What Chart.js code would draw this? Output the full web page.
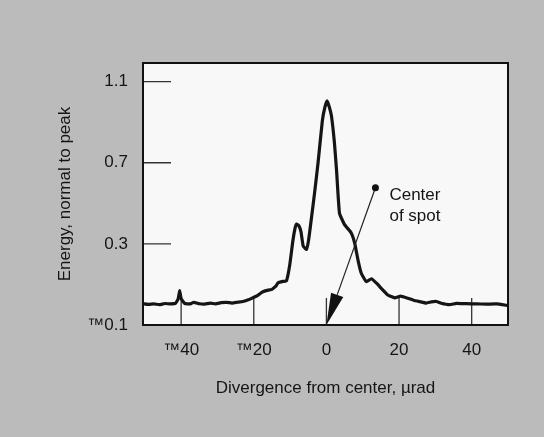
<!DOCTYPE html>
<html>
<head>
<meta charset="utf-8">
<script src="https://cdn.jsdelivr.net/npm/chart.js"></script>
<style>
  html, body { margin: 0; padding: 0; background: #bbbbbb; }
  canvas { display: block; }
</style>
</head>
<body>
<canvas id="beamChart" width="544" height="437"></canvas>
<script>
// divergence from center (urad) and normalised energy
var divergence = [-50.5, -49, -47.5, -46, -44.5, -43, -41.5, -40.8, -40.4, -40, -39, -37.5, -36.5, -35, -33.5, -32, -30.5, -29, -27.5, -26, -24.5, -23, -21.5, -20.3, -19, -17.5, -16, -15, -14, -13.3, -12, -11, -10.1, -9.2, -8.6, -8.2, -7.6, -7, -6.4, -5.5, -4.9, -4.1, -3.2, -2.3, -1.1, -0.4, 0.2, 0.8, 1.4, 2.2, 2.8, 3.6, 5.0, 6.8, 7.8, 8.7, 9.6, 11, 12.4, 13.8, 15.1, 16.9, 18.8, 20.4, 22.4, 24, 25.7, 27.5, 28.9, 30.3, 31.6, 33.9, 35.8, 38.5, 41.3, 44, 46.8, 50];
var energy = [0.005, 0.002, 0.004, 0.0, 0.006, 0.004, 0.008, 0.03, 0.07, 0.03, 0.006, 0.004, 0.012, 0.005, 0.003, 0.008, 0.004, 0.01, 0.012, 0.008, 0.012, 0.016, 0.024, 0.034, 0.045, 0.064, 0.072, 0.076, 0.09, 0.108, 0.115, 0.118, 0.196, 0.319, 0.38, 0.398, 0.39, 0.36, 0.29, 0.273, 0.319, 0.43, 0.56, 0.70, 0.91, 0.975, 1.005, 0.975, 0.93, 0.80, 0.66, 0.451, 0.395, 0.355, 0.303, 0.22, 0.155, 0.114, 0.128, 0.106, 0.081, 0.048, 0.034, 0.042, 0.032, 0.022, 0.015, 0.008, 0.014, 0.016, 0.007, 0.0, 0.007, 0.005, 0.004, 0.003, 0.004, -0.004];

var xTicks = [-40, -20, 0, 20, 40];
var xTickLabels = ['™40', '™20', '0', '20', '40'];
var yTicks = [-0.1, 0.3, 0.7, 1.1];
var yTickLabels = ['™0.1', '0.3', '0.7', '1.1'];

// "Center of spot" callout: dot -> arrow tip, in data units
var calloutFrom = [13.5, 0.577];
var calloutTo = [0, -0.1];
var calloutText = ['Center', 'of spot'];

var points = divergence.map(function (x, i) { return { x: x, y: energy[i] }; });
var FONT = '"Liberation Sans", Arial, Helvetica, sans-serif';

var framePlugin = {
  id: 'frame',
  beforeDatasetsDraw: function (chart) {
    var ctx = chart.ctx, a = chart.chartArea;
    var xs = chart.scales.x, ys = chart.scales.y;
    ctx.save();
    ctx.fillStyle = '#f8f8f8';
    ctx.fillRect(a.left, a.top, a.right - a.left, a.bottom - a.top);
    // inside tick marks
    ctx.strokeStyle = '#333';
    ctx.lineWidth = 1.3;
    ctx.beginPath();
    yTicks.forEach(function (v) {
      var py = ys.getPixelForValue(v);
      ctx.moveTo(a.left, py);
      ctx.lineTo(a.left + 28, py);
    });
    xTicks.forEach(function (v) {
      var px = xs.getPixelForValue(v);
      ctx.moveTo(px, a.bottom);
      ctx.lineTo(px, a.bottom - 27);
    });
    ctx.stroke();
    ctx.restore();
  },
  afterDatasetsDraw: function (chart) {
    var ctx = chart.ctx, a = chart.chartArea;
    var xs = chart.scales.x, ys = chart.scales.y;
    ctx.save();
    ctx.strokeStyle = '#111';
    ctx.lineWidth = 2;
    ctx.strokeRect(a.left, a.top, a.right - a.left, a.bottom - a.top);

    // callout arrow
    var x0 = xs.getPixelForValue(calloutFrom[0]), y0 = ys.getPixelForValue(calloutFrom[1]);
    var x1 = xs.getPixelForValue(calloutTo[0]), y1 = ys.getPixelForValue(calloutTo[1]);
    var dx = x0 - x1, dy = y0 - y1, len = Math.sqrt(dx * dx + dy * dy);
    var ux = dx / len, uy = dy / len;
    var bx = x1 + ux * 32, by = y1 + uy * 32;
    ctx.strokeStyle = '#222';
    ctx.lineWidth = 1.2;
    ctx.beginPath();
    ctx.moveTo(x0, y0);
    ctx.lineTo(bx, by);
    ctx.stroke();
    ctx.fillStyle = '#111';
    ctx.beginPath();
    ctx.moveTo(x1, y1);
    ctx.lineTo(bx - uy * 6.5, by + ux * 6.5);
    ctx.lineTo(bx + uy * 6.5, by - ux * 6.5);
    ctx.closePath();
    ctx.fill();
    ctx.beginPath();
    ctx.arc(x0, y0, 3.5, 0, Math.PI * 2);
    ctx.fill();

    ctx.fillStyle = '#151515';
    ctx.font = '17px ' + FONT;
    ctx.textAlign = 'left';
    ctx.textBaseline = 'alphabetic';
    ctx.fillText(calloutText[0], x0 + 14, y0 + 12);
    ctx.fillText(calloutText[1], x0 + 14, y0 + 33);
    ctx.restore();
  }
};

new Chart(document.getElementById('beamChart'), {
  type: 'line',
  data: {
    datasets: [{
      data: points,
      borderColor: '#151515',
      borderWidth: 3.2,
      borderJoinStyle: 'round',
      pointRadius: 0,
      tension: 0.12,
      fill: false
    }]
  },
  options: {
    responsive: false,
    animation: false,
    events: [],
    layout: { padding: { top: 63, right: 36, left: 0, bottom: 0 } },
    plugins: { legend: { display: false }, tooltip: { enabled: false } },
    scales: {
      x: {
        type: 'linear',
        min: -50.5,
        max: 50,
        afterBuildTicks: function (s) { s.ticks = xTicks.map(function (v) { return { value: v }; }); },
        afterFit: function (s) { s.height = 112; },
        grid: { display: false, drawTicks: false },
        border: { display: false },
        ticks: {
          padding: 15,
          color: '#151515',
          font: { size: 17, family: FONT },
          maxRotation: 0,
          callback: function (v, i) { return xTickLabels[i]; }
        },
        title: {
          display: true,
          text: 'Divergence from center, µrad',
          color: '#151515',
          font: { size: 17, family: FONT },
          padding: { top: 0, bottom: 38.8 }
        }
      },
      y: {
        type: 'linear',
        min: -0.1,
        max: 1.192,
        afterBuildTicks: function (s) { s.ticks = yTicks.map(function (v) { return { value: v }; }); },
        afterFit: function (s) { s.width = 143; },
        grid: { display: false, drawTicks: false },
        border: { display: false },
        ticks: {
          padding: 15,
          color: '#151515',
          font: { size: 17, family: FONT },
          callback: function (v, i) { return yTickLabels[i]; }
        },
        title: {
          display: true,
          text: 'Energy, normal to peak',
          color: '#151515',
          font: { size: 17, family: FONT },
          padding: { top: 54.8, bottom: 0 }
        }
      }
    }
  },
  plugins: [framePlugin]
});
</script>
</body>
</html>
